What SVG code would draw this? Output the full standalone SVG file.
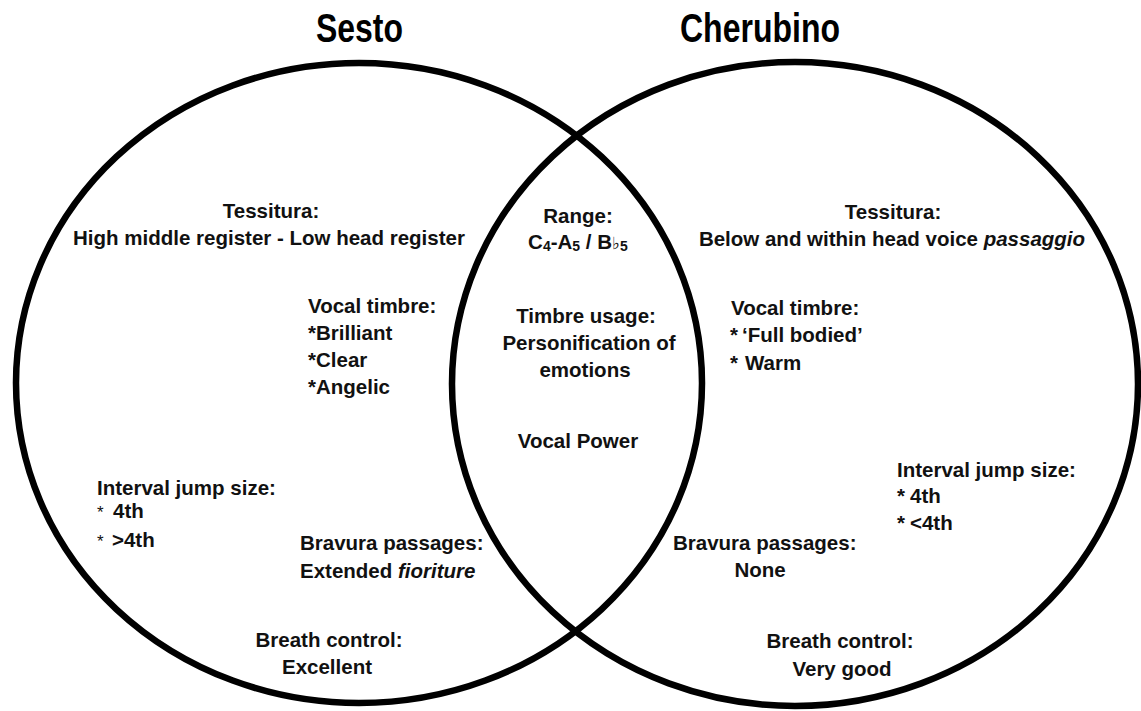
<svg xmlns="http://www.w3.org/2000/svg" width="1141" height="711" viewBox="0 0 1141 711">
<style>
text { font-family: "Liberation Sans", Arial, sans-serif; font-weight: bold; font-size: 20.5px; fill: #111; }
.title { font-size: 40px; fill: #000; }
.c { text-anchor: middle; }
.sub { font-size: 14px; }
.flat { font-family: "DejaVu Sans", sans-serif; font-size: 17px; font-weight: normal; }
.ast { font-size: 17px; font-weight: normal; }
.it { font-style: italic; }
.ring { fill: none; stroke: #000; stroke-width: 6.5; }
</style>
<rect width="1141" height="711" fill="#fff"/>
<g id="sets">
  <ellipse id="sesto-set" class="ring" cx="359" cy="383" rx="343" ry="320"/>
  <ellipse id="cherubino-set" class="ring" cx="795" cy="384" rx="343" ry="322"/>
</g>
<g id="connectors"></g>
<g id="title-sesto"><text class="title c" x="359.5" y="42" textLength="87" lengthAdjust="spacingAndGlyphs">Sesto</text></g>
<g id="title-cherubino"><text class="title c" x="760" y="42" textLength="160" lengthAdjust="spacingAndGlyphs">Cherubino</text></g>

<g id="sesto-tessitura">
  <text class="c" x="271" y="218">Tessitura:</text>
  <text class="c" x="269" y="245">High middle register - Low head register</text>
</g>
<g id="sesto-timbre">
  <text x="308" y="313">Vocal timbre:</text>
  <text x="308" y="340">*Brilliant</text>
  <text x="308" y="367">*Clear</text>
  <text x="308" y="394">*Angelic</text>
</g>
<g id="sesto-interval">
  <text x="97" y="495">Interval jump size:</text>
  <text class="ast" x="97" y="518">*</text><text x="113" y="518">4th</text>
  <text class="ast" x="97" y="547">*</text><text x="112" y="547">&gt;4th</text>
</g>
<g id="sesto-bravura">
  <text x="300" y="550">Bravura passages:</text>
  <text x="300" y="578">Extended <tspan class="it">fioriture</tspan></text>
</g>
<g id="sesto-breath">
  <text class="c" x="329" y="647">Breath control:</text>
  <text class="c" x="327" y="674">Excellent</text>
</g>

<g id="shared-range">
  <text class="c" x="578" y="223">Range:</text>
  <text class="c" x="578" y="249">C<tspan class="sub" dy="2">4</tspan><tspan dy="-2">-A</tspan><tspan class="sub" dy="2">5</tspan><tspan dy="-2"> / B</tspan><tspan class="flat">♭</tspan><tspan class="sub" dy="2">5</tspan></text>
</g>
<g id="shared-timbre">
  <text class="c" x="586" y="323">Timbre usage:</text>
  <text class="c" x="589" y="350">Personification of</text>
  <text class="c" x="585" y="377">emotions</text>
</g>
<g id="shared-power">
  <text class="c" x="578" y="448">Vocal Power</text>
</g>

<g id="cherubino-tessitura">
  <text class="c" x="893" y="219">Tessitura:</text>
  <text class="c" x="892" y="246">Below and within head voice <tspan class="it">passaggio</tspan></text>
</g>
<g id="cherubino-timbre">
  <text x="731" y="315">Vocal timbre:</text>
  <text x="730" y="342">*</text><text x="742" y="342">‘Full bodied’</text>
  <text x="730" y="370">*</text><text x="745" y="370">Warm</text>
</g>
<g id="cherubino-interval">
  <text x="897" y="477">Interval jump size:</text>
  <text x="897" y="503">*</text><text x="910" y="503">4th</text>
  <text x="897" y="530">*</text><text x="910" y="530">&lt;4th</text>
</g>
<g id="cherubino-bravura">
  <text x="673" y="550">Bravura passages:</text>
  <text class="c" x="760" y="577">None</text>
</g>
<g id="cherubino-breath">
  <text class="c" x="840" y="648">Breath control:</text>
  <text class="c" x="842" y="676">Very good</text>
</g>
</svg>
